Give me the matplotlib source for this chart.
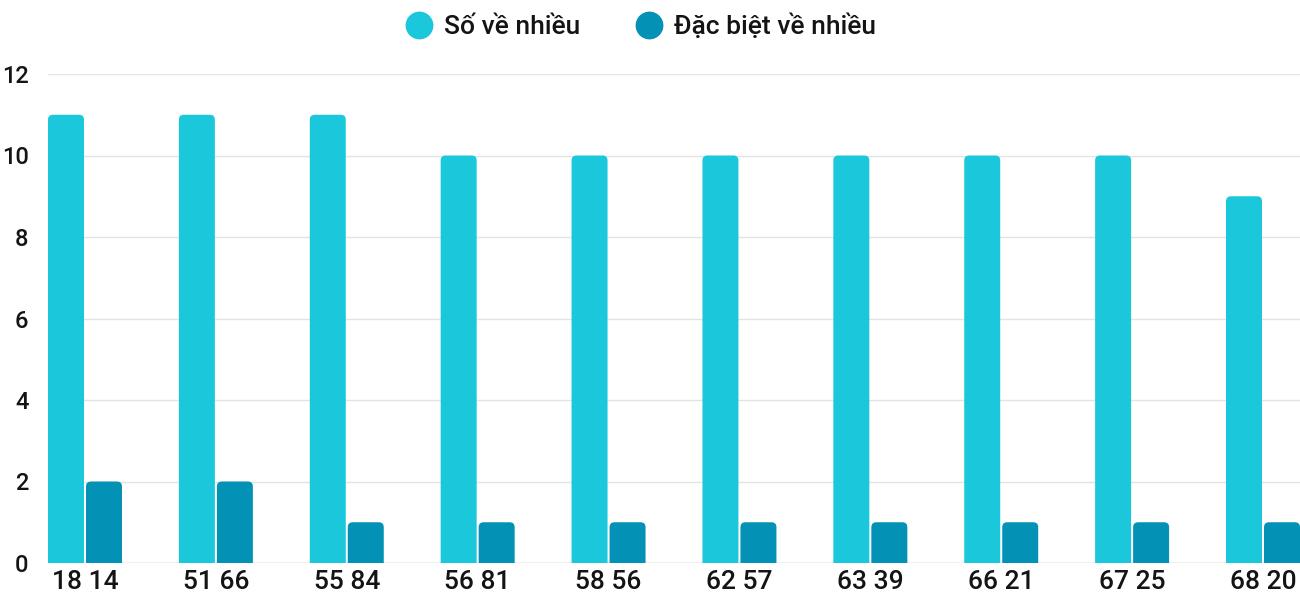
import matplotlib
matplotlib.use("Agg")
import matplotlib.pyplot as plt
from matplotlib.patches import FancyBboxPatch
from matplotlib.lines import Line2D
import numpy as np

categories = ["18 14", "51 66", "55 84", "56 81", "58 56", "62 57", "63 39", "66 21", "67 25", "68 20"]
so_ve_nhieu = [11, 11, 11, 10, 10, 10, 10, 10, 10, 9]
dac_biet_ve_nhieu = [2, 2, 1, 1, 1, 1, 1, 1, 1, 1]
series_names = ["Số về nhiều", "Đặc biệt về nhiều"]
yticks = [0, 2, 4, 6, 8, 10, 12]

c1 = "#1BC8DB"
c2 = "#0392B5"
txt = "#141414"

plt.rcParams['font.family'] = ['Roboto', 'DejaVu Sans']
plt.rcParams['font.weight'] = 500

W, H = 1300, 600
fig = plt.figure(figsize=(13, 6), dpi=100)
ax = fig.add_axes([48 / W, 37 / H, 1252 / W, 489 / H])

x = np.arange(len(categories))
step_px = 130.9
bw = 36 / step_px
gap = 2 / step_px
off = bw / 2 + gap / 2
xlim = (-off - bw / 2, len(categories) - 1 + off + bw / 2)
ax.set_xlim(*xlim)
ax.set_ylim(0, 12)

bars1 = ax.bar(x - off, so_ve_nhieu, width=bw, color=c1, zorder=3)
bars2 = ax.bar(x + off, dac_biet_ve_nhieu, width=bw, color=c2, zorder=3)

# convert to rounded-top bars
x_per_px = (xlim[1] - xlim[0]) / 1252
y_per_px = 12 / 489
aspect = y_per_px / x_per_px
r = 5 * x_per_px
for bars in (bars1, bars2):
    for b in bars:
        b.set_visible(False)
        bx, by = b.get_x(), b.get_y()
        bwid, bh = b.get_width(), b.get_height()
        ext = 10 * y_per_px
        p = FancyBboxPatch((bx, by - ext), bwid, bh + ext,
                           boxstyle=f"round,pad=0,rounding_size={r}",
                           mutation_aspect=aspect,
                           facecolor=b.get_facecolor(), edgecolor="none",
                           zorder=3, clip_on=True)
        ax.add_patch(p)

ax.set_yticks(yticks)
ax.set_xticks(x)
ax.set_xticklabels(categories)
ax.grid(axis='y', color='#e3e3e3', linewidth=1, zorder=0)
ax.axhline(0, color='#cccccc', linewidth=1, zorder=2)
for s in ax.spines.values():
    s.set_visible(False)
ax.tick_params(axis='both', length=0, colors=txt)
ax.tick_params(axis='y', labelsize=17, pad=14)
ax.tick_params(axis='x', labelsize=19, pad=5)

handles = [Line2D([], [], marker='o', linestyle='none', markersize=19, markerfacecolor=c1, markeredgecolor=c1),
           Line2D([], [], marker='o', linestyle='none', markersize=19, markerfacecolor=c2, markeredgecolor=c2)]
leg = fig.legend(handles, series_names, loc='center', bbox_to_anchor=(640 / W, 1 - 26 / H),
                 ncol=2, frameon=False, fontsize=19, handletextpad=0.35, columnspacing=2.0,
                 handlelength=1.2)
for t in leg.get_texts():
    t.set_color(txt)

fig.savefig("out.png", dpi=100)
